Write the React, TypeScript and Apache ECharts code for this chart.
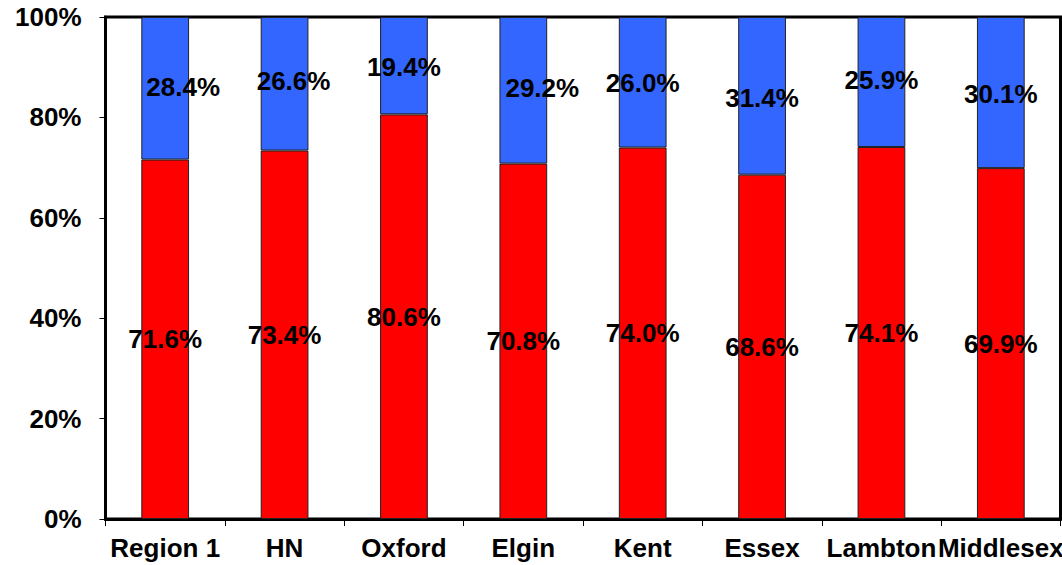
import React, { useEffect, useRef } from "react";
import * as echarts from "echarts";

const categories = ["Region 1", "HN", "Oxford", "Elgin", "Kent", "Essex", "Lambton", "Middlesex"];
const redValues = [71.6, 73.4, 80.6, 70.8, 74.0, 68.6, 74.1, 69.9];
const blueValues = [28.4, 26.6, 19.4, 29.2, 26.0, 31.4, 25.9, 30.1];
// manual label nudges (dx, dy) seen in the reference for the upper segment labels
const blueLabelOffsets: [number, number][] = [[18, -1], [9, -3], [0, 1], [19, -2], [0, 1], [0, 2], [0, -2], [0, 1]];
const yTicks = [0, 20, 40, 60, 80, 100];

const FONT = "'Liberation Sans', Arial, sans-serif";

export default function App() {
  const ref = useRef<HTMLDivElement>(null);
  useEffect(() => {
    if (!ref.current) return;
    const chart = echarts.init(ref.current, null, { renderer: "svg" });
    const labelStyle = {
      show: true,
      position: "inside" as const,
      color: "#000",
      fontWeight: "bold" as const,
      fontSize: 26,
      fontFamily: FONT,
      formatter: (p: any) => Number(p.value).toFixed(1) + "%",
    };
    chart.setOption({
      animation: false,
      backgroundColor: "#fff",
      grid: {
        left: 105.5,
        top: 17,
        right: 1.5,
        bottom: 46,
        show: true,
        borderColor: "#000",
        borderWidth: 3,
        backgroundColor: "#fff",
        containLabel: false,
        outerBoundsMode: "none",
      },
      xAxis: {
        type: "category",
        data: categories,
        axisLine: { show: true, lineStyle: { color: "#000", width: 3 } },
        axisTick: { show: true, length: 7, lineStyle: { color: "#000", width: 1 } },
        axisLabel: {
          color: "#000",
          fontWeight: "bold",
          fontSize: 26,
          fontFamily: FONT,
          margin: 16,
          interval: 0,
          hideOverlap: false,
        },
      },
      yAxis: {
        type: "value",
        min: yTicks[0],
        max: yTicks[yTicks.length - 1],
        interval: 20,
        splitLine: { show: false },
        axisLine: { show: true, lineStyle: { color: "#000", width: 3 } },
        axisTick: { show: true, length: 6, lineStyle: { color: "#000", width: 1 } },
        axisLabel: {
          color: "#000",
          fontWeight: "bold",
          fontSize: 26,
          fontFamily: FONT,
          margin: 24,
          formatter: "{value}%",
        },
      },
      series: [
        {
          type: "bar",
          stack: "total",
          barWidth: "40%",
          data: redValues,
          itemStyle: { color: "#FF0000", borderColor: "#222", borderWidth: 1 },
          label: labelStyle,
        },
        {
          type: "bar",
          stack: "total",
          barWidth: "40%",
          data: blueValues.map((v, i) => ({
            value: v,
            label: { offset: blueLabelOffsets[i] },
          })),
          itemStyle: { color: "#3366FF", borderColor: "#222", borderWidth: 1 },
          label: labelStyle,
        },
      ],
    });
    return () => chart.dispose();
  }, []);
  return (
    <div
      ref={ref}
      style={{ position: "fixed", left: 0, top: 0, width: 1062, height: 565 }}
    />
  );
}
